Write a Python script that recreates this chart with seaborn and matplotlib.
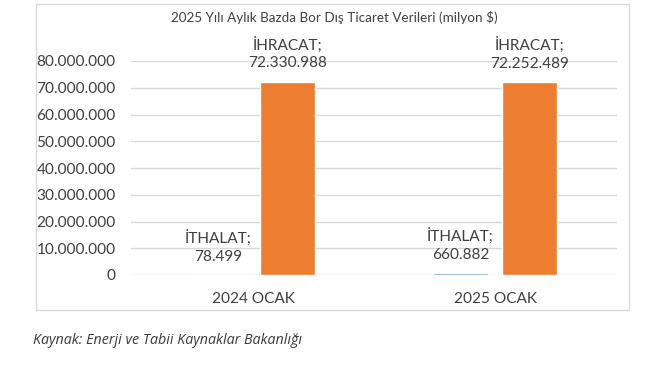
import matplotlib
matplotlib.use("Agg")
import matplotlib.pyplot as plt
import seaborn as sns
import pandas as pd
from matplotlib.ticker import MultipleLocator, FuncFormatter
from matplotlib.patches import Rectangle

categories = ["2024 OCAK", "2025 OCAK"]
series = ["İTHALAT", "İHRACAT"]
ithalat = [78499, 660882]
ihracat = [72330988, 72252489]
colors = ["#5B9BD5", "#ED7D31"]
title = "2025 Yılı Aylık Bazda Bor Dış Ticaret Verileri (milyon $)"
source = "Kaynak: Enerji ve Tabii Kaynaklar Bakanlığı"

df = pd.DataFrame({
    "donem": categories * 2,
    "tur": [series[0]] * 2 + [series[1]] * 2,
    "deger": ithalat + ihracat,
})

sns.set_theme(style="white")
plt.rcParams["font.family"] = ["Lato", "DejaVu Sans"]

W, H = 659, 365
FS = 11.1
fig = plt.figure(figsize=(W / 100, H / 100), dpi=100)
ax = fig.add_axes([131 / W, 90 / H, (617 - 131) / W, 214 / H])

sns.barplot(data=df, x="donem", y="deger", hue="tur", hue_order=series,
            order=categories, palette=colors, width=0.57, gap=0.2,
            ax=ax, legend=False, saturation=1)

ax.set_xlim(-0.504, 1.504)
ax.set_ylim(0, 80_000_000)
ax.yaxis.set_major_locator(MultipleLocator(10_000_000))
ax.yaxis.set_major_formatter(FuncFormatter(lambda v, p: f"{int(v):,}".replace(",", ".")))
ax.grid(axis="y", color="#d9d9d9", linewidth=1)
ax.set_axisbelow(True)
for s in ax.spines.values():
    s.set_visible(False)
ax.tick_params(axis="y", length=0, pad=11, labelsize=FS, labelcolor="#404040")
ax.tick_params(axis="x", length=0, pad=12, labelsize=FS, labelcolor="#404040")
ax.set_xlabel("")
ax.set_ylabel("")

def fmt(v):
    return f"{v:,}".replace(",", ".")

vals = [ithalat, ihracat]
for cont, name, v in zip(ax.containers, series, vals):
    ax.bar_label(cont, labels=[f"{name};\n{fmt(x)}" for x in v], padding=8,
                 fontsize=FS, color="#404040", linespacing=1.35)

fig.add_artist(Rectangle((36 / W, 1 - 310 / H), (629 - 36) / W, (310 - 4) / H,
                         transform=fig.transFigure, fill=False,
                         edgecolor="#d9d9d9", linewidth=1))
fig.text(334 / W, 1 - 18 / H, title, ha="center", va="center",
         fontsize=9.75, color="#404040")
fig.text(33 / W, 1 - 340 / H, source, ha="left", va="center",
         fontsize=10.3, style="italic", color="#3a3a3a", family=["Open Sans", "DejaVu Sans"])

fig.savefig("out.png", dpi=100)
